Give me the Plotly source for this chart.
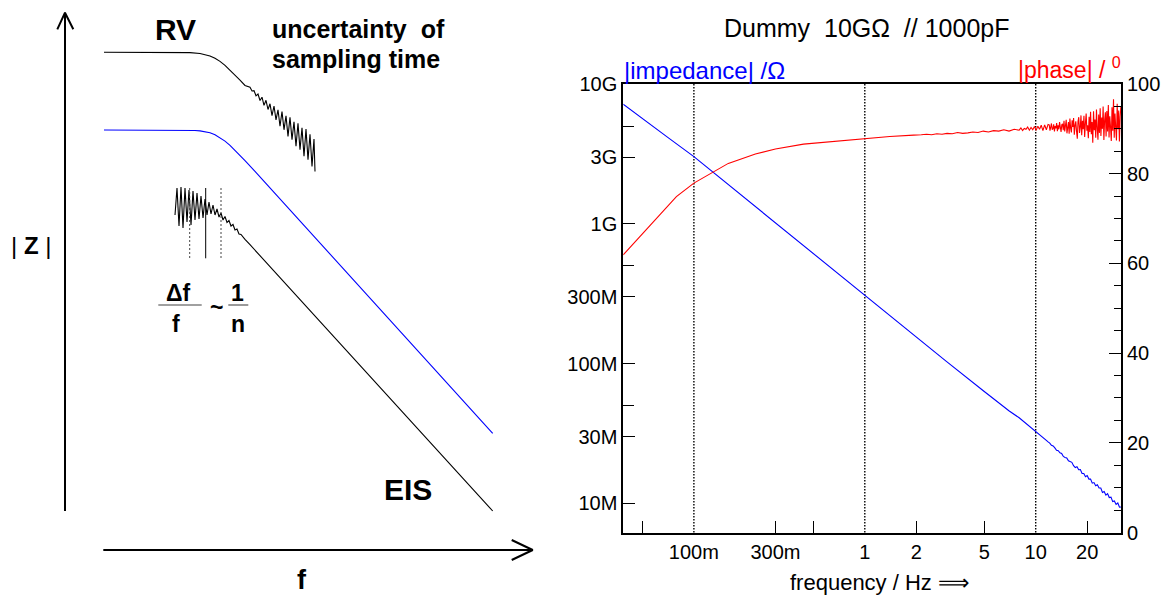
import plotly.graph_objects as go

W, H = 1172, 595
FONT = "Liberation Sans, Arial, Helvetica, sans-serif"

# ---------------- right panel: measured data ----------------
imp_freq_lo = [0.0386, 0.05, 0.07, 0.1, 0.15, 0.2, 0.3, 0.5, 0.7, 1.0, 1.5, 2.0, 3.0, 5.0, 7.0]
imp_log_lo = [9.855, 9.755, 9.62, 9.48, 9.305, 9.18, 9.005, 8.785, 8.64, 8.49, 8.315, 8.19, 8.015, 7.80, 7.66]

imp_freq_hf = [8.00, 8.19, 8.38, 8.57, 8.77, 8.97, 9.18, 9.39, 9.61, 9.83,
               10.06, 10.29, 10.53, 10.77, 11.02, 11.28, 11.54, 11.81, 12.08, 12.36,
               12.65, 12.94, 13.24, 13.55, 13.86, 14.18, 14.51, 14.85, 15.19, 15.54,
               15.90, 16.27, 16.65, 17.04, 17.43, 17.84, 18.25, 18.67, 19.11, 19.55,
               20.00, 20.47, 20.94, 21.43, 21.92, 22.43, 22.95, 23.48, 24.03, 24.58,
               25.15, 25.74, 26.33, 26.94, 27.57, 28.21, 28.86, 29.53, 30.22, 30.92,
               31.6]
imp_log_hf = [7.612, 7.602, 7.593, 7.583, 7.573, 7.564, 7.554, 7.544, 7.534, 7.525,
              7.515, 7.504, 7.493, 7.483, 7.472, 7.461, 7.450, 7.439, 7.431, 7.415,
              7.410, 7.396, 7.379, 7.376, 7.361, 7.357, 7.335, 7.328, 7.325, 7.304,
              7.299, 7.293, 7.269, 7.256, 7.261, 7.240, 7.241, 7.213, 7.213, 7.190,
              7.198, 7.173, 7.174, 7.144, 7.148, 7.125, 7.133, 7.109, 7.109, 7.078,
              7.085, 7.058, 7.069, 7.041, 7.044, 7.012, 7.017, 6.992, 7.002, 6.972,
              6.973]

phase_freq_lo = [0.0386, 0.079, 0.1, 0.131, 0.159, 0.229, 0.3, 0.438, 0.67, 1.0, 1.4, 1.93]
phase_lo = [61.9, 74.9, 77.9, 80.4, 82.3, 84.4, 85.5, 86.6, 87.2, 87.9, 88.3, 88.6]

phase_freq_mid = [2.00, 2.14, 2.30, 2.46, 2.64, 2.83, 3.03, 3.25, 3.49, 3.74,
                  4.01, 4.29, 4.60, 4.93, 5.29, 5.67, 6.08, 6.51, 6.98, 7.49,
                  8.00, 8.19, 8.38, 8.57, 8.77, 8.97, 9.18, 9.39, 9.61, 9.83,
                  10.06, 10.29, 10.53, 10.77, 11.02, 11.28, 11.54, 11.81]
phase_mid = [88.6, 88.7, 88.8, 88.7, 88.9, 88.8, 89.0, 88.9, 89.2, 89.0,
             89.1, 89.3, 89.2, 89.5, 89.3, 89.6, 89.5, 89.8, 89.5, 89.9,
             89.7, 90.2, 89.6, 90.1, 89.9, 90.4, 89.7, 90.3, 89.8, 90.5,
             89.7, 90.6, 89.9, 90.8, 89.6, 90.9, 89.8, 91.0]

phase_freq_hf = [12.00, 12.12, 12.24, 12.36, 12.49, 12.61, 12.74, 12.87, 12.99, 13.12,
                 13.26, 13.39, 13.52, 13.66, 13.79, 13.93, 14.07, 14.21, 14.35, 14.49,
                 14.64, 14.78, 14.93, 15.08, 15.23, 15.38, 15.54, 15.69, 15.85, 16.01,
                 16.17, 16.33, 16.49, 16.66, 16.82, 16.99, 17.16, 17.33, 17.51, 17.68,
                 17.86, 18.04, 18.22, 18.40, 18.58, 18.77, 18.96, 19.15, 19.34, 19.53,
                 19.73, 19.92, 20.12, 20.32, 20.53, 20.73, 20.94, 21.15, 21.36, 21.57,
                 21.79, 22.01, 22.23, 22.45, 22.67, 22.90, 23.13, 23.36, 23.60, 23.83,
                 24.07, 24.31, 24.56, 24.80, 25.05, 25.30, 25.56, 25.81, 26.07, 26.33,
                 26.60, 26.86, 27.13, 27.40, 27.68, 27.95, 28.23, 28.52, 28.80, 29.09,
                 29.38, 29.68, 29.97, 30.27, 30.58, 30.88, 31.19, 31.50]
phase_hf = [90.9, 89.6, 90.4, 91.2, 89.8, 90.0, 91.0, 89.4, 90.6, 90.1,
            91.3, 89.5, 90.8, 89.9, 91.5, 90.2, 89.3, 90.9, 91.1, 89.7,
            91.8, 89.4, 90.9, 92.0, 89.0, 90.6, 91.5, 88.9, 92.3, 90.1,
            89.2, 91.9, 90.4, 92.4, 88.7, 90.8, 91.7, 89.5, 87.8, 91.6,
            92.6, 89.1, 90.3, 93.0, 88.6, 91.8, 89.9, 92.9, 88.2, 91.2,
            93.4, 89.6, 90.8, 87.9, 92.7, 89.3, 93.8, 88.8, 91.5, 86.9,
            93.9, 89.7, 92.1, 88.0, 94.3, 90.2, 87.6, 93.2, 89.1, 94.6,
            88.4, 92.5, 90.0, 95.0, 87.5, 91.9, 93.7, 88.3, 94.0, 89.4,
            95.3, 88.1, 92.8, 90.4, 87.3, 94.8, 89.6, 96.6, 88.0, 93.4,
            91.0, 87.4, 95.6, 89.9, 94.1, 87.2, 92.7, 95.0]

x_label_vals = [0.1, 0.3, 1, 2, 5, 10, 20]
x_label_text = ["100m", "300m", "1", "2", "5", "10", "20"]
x_minor_vals = [0.05, 0.3, 0.5, 2, 5, 20]
grid_freqs = [0.1, 1, 10]
y_label_vals = [1e7, 3e7, 1e8, 3e8, 1e9, 3e9, 1e10]
y_label_text = ["10M", "30M", "100M", "300M", "1G", "3G", "10G"]
y_minor_vals = [5e7, 5e8, 5e9]
phase_ticks = [0, 20, 40, 60, 80, 100]

# ---------------- left panel: schematic curves (drawing units) ----------------
rv_x = [104, 180, 190, 200, 205, 210, 215, 220, 225, 230, 235, 240, 245,
        248, 250, 252, 254, 256, 258, 260, 262, 264, 266, 268, 270, 272, 274,
        276, 278, 280, 282, 284, 286, 288, 290, 292, 294, 296, 298, 300, 302,
        304, 306, 308, 310, 312, 314, 315]
rv_y = [52.3, 52.4, 52.6, 53.5, 54.4, 55.9, 58.3, 61.4, 65.4, 70.0, 74.9, 80.2, 85.5,
        86.5, 87.3, 91.0, 90.6, 95.8, 94.0, 100.5, 97.2, 105.4, 100.3, 109.5, 103.8,
        115.6, 106.0, 119.8, 109.8, 126.2, 111.5, 129.8, 115.8, 136.4, 117.2, 139.6,
        121.9, 146.3, 123.2, 149.8, 127.9, 156.3, 129.1, 159.6, 134.2, 166.4, 139.0, 171.5]

blue_x = [104, 180, 190, 195, 200, 205, 210, 215, 220, 225, 230, 235, 240, 245, 255, 492.7]
blue_y = [130.0, 130.1, 130.3, 130.5, 130.9, 131.6, 132.8, 134.7, 137.5, 141.1,
          145.4, 150.2, 155.3, 160.6, 171.4, 433.3]

eis_x = [175, 177, 179, 181, 183, 185, 187, 189, 191, 193, 195, 197, 199, 201, 203,
         205, 207, 209, 211, 213, 215, 217, 219, 221, 223, 225, 227, 229, 231, 233,
         235, 237, 239, 241, 245, 250, 492.7]
eis_y = [215, 188, 226, 187, 228, 188, 222, 190, 225, 191, 220, 193, 219, 196, 218,
         199, 215, 202, 214, 205, 215, 209, 217, 213, 220, 216.5, 222.5, 220.5, 226, 224.5,
         230, 229, 234, 234.5, 239.3, 244.7, 511]

marker_x = [189.7, 205.7, 221.0]
marker_dash = ["dot", "solid", "dot"]
marker_y = [188, 258.3]

vaxis_x = [65, 65, None, 57.3, 65, 73.3]
vaxis_y = [511, 12.7, None, 29.3, 12.7, 29.3]
haxis_x = [103.3, 532.7, None, 511.7, 532.7, 511.7]
haxis_y = [550, 550, None, 540, 550, 560]
frac_x = [158.3, 201.7, None, 228.3, 248.3]
frac_y = [305, 305, None, 305, 305]

fig = go.Figure()

# right panel traces
fig.add_trace(go.Scatter(
    x=imp_freq_lo + imp_freq_hf,
    y=[10 ** v for v in imp_log_lo + imp_log_hf],
    mode="lines", line=dict(color="#0000ff", width=1.1),
    xaxis="x", yaxis="y", hoverinfo="skip"))
fig.add_trace(go.Scatter(
    x=phase_freq_lo + phase_freq_mid + phase_freq_hf,
    y=phase_lo + phase_mid + phase_hf,
    mode="lines", line=dict(color="#ff0000", width=1.1),
    xaxis="x", yaxis="y2", hoverinfo="skip"))

# left panel traces
def sch(x, y, color="black", width=1.0, dash="solid"):
    fig.add_trace(go.Scatter(x=x, y=y, mode="lines",
                             line=dict(color=color, width=width, dash=dash),
                             xaxis="x3", yaxis="y3", hoverinfo="skip"))

sch(vaxis_x, vaxis_y, width=2)
sch(haxis_x, haxis_y, width=2)
sch(rv_x, rv_y, width=1.1)
sch(blue_x, blue_y, color="#0000ff", width=1.1)
sch(eis_x, eis_y, width=1.1)
for mx, md in zip(marker_x, marker_dash):
    sch([mx, mx], marker_y, color="#444444" if md == "dot" else "black",
        width=1, dash="2px,2px" if md == "dot" else "solid")
sch(frac_x, frac_y, color="#808080", width=1.6)

shapes = []
for g in grid_freqs:
    shapes.append(dict(type="line", xref="x", yref="y domain",
                       x0=g, x1=g, y0=0, y1=1,
                       line=dict(color="black", width=1.4, dash="1.5px,1.5px"), layer="below"))

def ann(x, y, text, size, color="black", xanchor="center"):
    return dict(x=x / W, y=1 - y / H, xref="paper", yref="paper", text=text,
                showarrow=False, xanchor=xanchor, yanchor="middle",
                font=dict(size=size, color=color, family=FONT))

NB = "\u00a0"
annotations = [
    ann(866, 28, "Dummy" + NB * 2 + "10GΩ" + NB * 2 + "// 1000pF", 25),
    ann(622, 70, "|impedance| /Ω", 24, color="#0000ff", xanchor="left"),
    ann(1123, 68, "|phase| / <sup>0</sup>", 23, color="#ff0000", xanchor="right"),
    ann(880, 582, "frequency / Hz ⟹", 22),
    ann(175.5, 29, "<b>RV</b>", 30),
    ann(270, 29, "<b>uncertainty" + NB * 2 + "of</b>", 25, xanchor="left"),
    ann(270, 59, "<b>sampling time</b>", 25, xanchor="left"),
    ann(31, 246, "|" + NB + "<b>Z</b>" + NB + "|", 24),
    ann(178, 293, "<b>Δf</b>", 23),
    ann(176, 324, "<b>f</b>", 23),
    ann(216, 307, "<b>~</b>", 23),
    ann(237, 293, "<b>1</b>", 23),
    ann(238, 324, "<b>n</b>", 23),
    ann(408, 489, "<b>EIS</b>", 30),
    ann(302, 580, "<b>f</b>", 27),
]

tickfont = dict(size=20, color="black", family=FONT)
fig.update_layout(
    width=W, height=H, autosize=False,
    margin=dict(l=0, r=0, t=0, b=0, pad=0, autoexpand=False),
    paper_bgcolor="white", plot_bgcolor="rgba(0,0,0,0)",
    showlegend=False,
    xaxis=dict(type="log", range=[-1.413, 1.499], domain=[623.3 / W, 1121 / W],
               anchor="y", showline=True, linecolor="black", linewidth=2, mirror=True,
               showgrid=False, zeroline=False, tickmode="array", automargin=False,
               tickvals=x_label_vals, ticktext=x_label_text, ticks="",
               tickfont=tickfont,
               minor=dict(tickmode="array", tickvals=x_minor_vals, ticks="inside",
                          ticklen=12, tickwidth=1, tickcolor="black", showgrid=False)),
    yaxis=dict(type="log", range=[6.791, 10.0], domain=[1 - 532.5 / H, 1 - 84 / H],
               anchor="x", showline=True, linecolor="black", linewidth=2,
               showgrid=False, zeroline=False, tickmode="array", automargin=False,
               tickvals=y_label_vals, ticktext=y_label_text, ticks="inside",
               ticklen=12, tickwidth=1, tickcolor="black", tickfont=tickfont,
               minor=dict(tickmode="array", tickvals=y_minor_vals, ticks="inside",
                          ticklen=11, tickwidth=1, tickcolor="black", showgrid=False)),
    yaxis2=dict(overlaying="y", side="right", anchor="x", range=[0, 100],
                showline=True, linecolor="black", linewidth=2, automargin=False,
                showgrid=False, zeroline=False, tickmode="array",
                tickvals=phase_ticks, ticks="inside", ticklen=12, tickwidth=1,
                tickcolor="black", tickfont=tickfont,
                minor=dict(dtick=5, ticks="inside", ticklen=7, tickwidth=1,
                           tickcolor="black", showgrid=False)),
    xaxis3=dict(domain=[0, 0.5], range=[0, 586], anchor="y3", visible=False),
    yaxis3=dict(domain=[0, 1], range=[595, 0], anchor="x3", visible=False),
    shapes=shapes,
    annotations=annotations,
)

fig.write_html("out.html", config={"displayModeBar": False},
               post_script="document.body.style.margin='0';")
